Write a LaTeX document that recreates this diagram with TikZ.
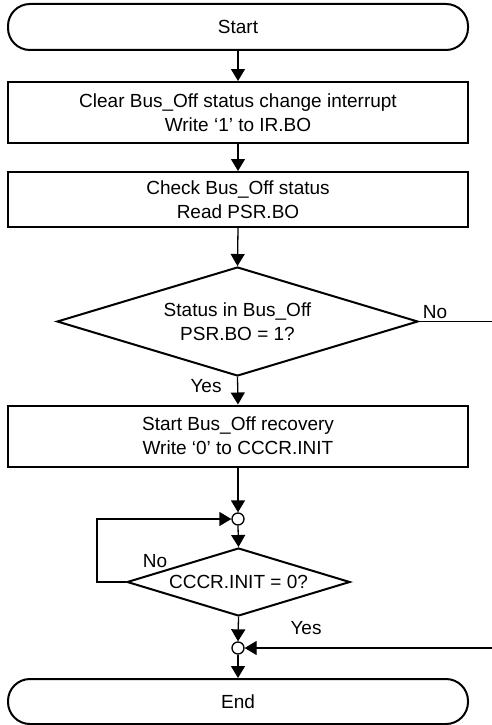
\documentclass[tikz,border=0pt]{standalone}
\usepackage{fontspec}
\setmainfont{Liberation Sans}
\usetikzlibrary{shapes.geometric,arrows.meta}
\begin{document}
\begin{tikzpicture}[x=1pt,y=-1pt,
  every node/.style={font=\fontsize{19}{24}\selectfont, align=center},
  term/.style={draw, line width=2pt, rectangle, rounded corners=22pt, minimum width=460pt, inner sep=0pt},
  proc/.style={draw, line width=2pt, rectangle, minimum width=460pt, inner sep=0pt},
  dec/.style={draw, line width=2pt, diamond, inner sep=0pt},
  junc/.style={draw, line width=1.3pt, circle, minimum size=12pt, inner sep=0pt, fill=white},
  conn/.style={line width=1.3pt},
  arr/.style={conn, -{Triangle[length=12pt,width=14pt]}},
  lbl/.style={inner sep=0pt}
]
\useasboundingbox (0,0) rectangle (492,725);
\node[term, minimum height=46pt] (start) at (238,27) {Start};
\node[proc, minimum height=61pt] (b1) at (238,112.5) {Clear Bus\_Off status change interrupt\\Write ‘1’ to IR.BO};
\node[proc, minimum height=55pt] (b2) at (238,199.5) {Check Bus\_Off status\\Read PSR.BO};
\node[dec, aspect=3.31, minimum width=361pt, minimum height=109pt] (d1) at (237.5,321.5) {Status in Bus\_Off\\PSR.BO = 1?};
\node[proc, minimum height=61pt] (b3) at (238,436) {Start Bus\_Off recovery\\Write ‘0’ to CCCR.INIT};
\node[junc] (c1) at (238,519) {};
\node[dec, aspect=3.28, minimum width=223pt, minimum height=68pt] (d2) at (238.5,582) {CCCR.INIT = 0?};
\node[junc] (c2) at (238,648) {};
\node[term, minimum height=45pt] (end) at (238,701.5) {End};
\coordinate (r1) at (492,321.5);
\coordinate (r2) at (492,648);
\coordinate (lp) at (97,582);

\draw[arr] (start.south) -- (b1.north);
\draw[arr] (b1.south) -- (b2.north);
\draw[arr] (b2.south) -- (d1.north);
\draw[arr] (d1.south) -- (b3.north);
\draw[conn] (d1.east) -- (r1);
\draw[arr] (b3.south) -- (c1.north);
\draw[arr] (c1.south) -- (d2.north);
\draw[arr] (d2.west) -- (lp) |- (c1.west);
\draw[arr] (d2.south) -- (c2.north);
\draw[arr] (r2) -- (c2.east);
\draw[arr] (c2.south) -- (end.north);

\node[lbl] (no1) at (435,312) {No};
\node[lbl] (yes1) at (206,386) {Yes};
\node[lbl] (no2) at (155,561) {No};
\node[lbl] (yes2) at (306,628) {Yes};
\end{tikzpicture}
\end{document}
